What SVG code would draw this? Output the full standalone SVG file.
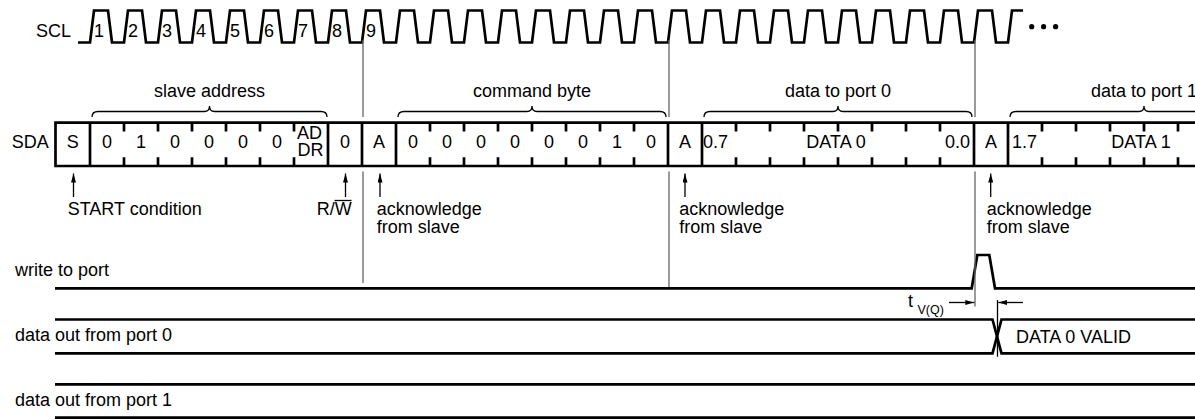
<svg xmlns="http://www.w3.org/2000/svg" width="1195" height="419" viewBox="0 0 1195 419">
<style>
text{font-family:"Liberation Sans",Arial,sans-serif;font-size:18px;fill:#000}
.c{text-anchor:middle}
.e{text-anchor:end}
.sub{font-size:12.5px}
.w{fill:none;stroke:#000;stroke-width:2.7;stroke-linejoin:miter}
.t{fill:none;stroke:#000;stroke-width:1.3}
.g{fill:none;stroke:#666;stroke-width:1.3}
.br{fill:none;stroke:#000;stroke-width:1.3}
</style>
<defs>
<marker id="ah" viewBox="0 0 9 5" refX="9" refY="2.5" markerWidth="9" markerHeight="5" orient="auto" markerUnits="userSpaceOnUse">
<path d="M0,0 L9,2.5 L0,5 z" fill="#000"/>
</marker>
</defs>
<rect width="1195" height="419" fill="#fff"/>

<g id="scl">
<text x="36" y="36.5">SCL</text>
<path class="w" d="M78,42.5 H90 L94,10.5 H108 L112,42.5 H124 L128,10.5 H142 L146,42.5 H158 L162,10.5 H176 L180,42.5 H192 L196,10.5 H210 L214,42.5 H226 L230,10.5 H244 L248,42.5 H260 L264,10.5 H278 L282,42.5 H294 L298,10.5 H312 L316,42.5 H328 L332,10.5 H346 L350,42.5 H362 L366,10.5 H380 L384,42.5 H396 L400,10.5 H414 L418,42.5 H430 L434,10.5 H448 L452,42.5 H464 L468,10.5 H482 L486,42.5 H498 L502,10.5 H516 L520,42.5 H532 L536,10.5 H550 L554,42.5 H566 L570,10.5 H584 L588,42.5 H600 L604,10.5 H618 L622,42.5 H634 L638,10.5 H652 L656,42.5 H668 L672,10.5 H686 L690,42.5 H702 L706,10.5 H720 L724,42.5 H736 L740,10.5 H754 L758,42.5 H770 L774,10.5 H788 L792,42.5 H804 L808,10.5 H822 L826,42.5 H838 L842,10.5 H856 L860,42.5 H872 L876,10.5 H890 L894,42.5 H906 L910,10.5 H924 L928,42.5 H940 L944,10.5 H958 L962,42.5 H974 L978,10.5 H992 L996,42.5 H1008 L1012,10.5 H1023"/>
<text x="94" y="36.5">1</text>
<text x="128" y="36.5">2</text>
<text x="162" y="36.5">3</text>
<text x="196" y="36.5">4</text>
<text x="230" y="36.5">5</text>
<text x="264" y="36.5">6</text>
<text x="298" y="36.5">7</text>
<text x="332" y="36.5">8</text>
<text x="366" y="36.5">9</text>
<circle cx="1031.7" cy="26.7" r="2.6"/>
<circle cx="1043.6" cy="26.7" r="2.6"/>
<circle cx="1055.6" cy="26.7" r="2.6"/>
</g>

<g id="braces">
<path class="br" d="M92,117 Q92,111.5 98,111.5 H204.5 Q209.5,111.5 209.5,106 Q209.5,111.5 214.5,111.5 H321 Q327,111.5 327,117"/>
<text class="c" x="209.5" y="96.5">slave address</text>
<path class="br" d="M398,117 Q398,111.5 404,111.5 H527 Q532,111.5 532,106 Q532,111.5 537,111.5 H660 Q666,111.5 666,117"/>
<text class="c" x="532" y="96.5">command byte</text>
<path class="br" d="M704,117 Q704,111.5 710,111.5 H833 Q838,111.5 838,106 Q838,111.5 843,111.5 H966 Q972,111.5 972,117"/>
<text class="c" x="838" y="96.5">data to port 0</text>
<path class="br" d="M1010,117 Q1010,111.5 1016,111.5 H1139 Q1144,111.5 1144,106 Q1144,111.5 1149,111.5 H1272 Q1278,111.5 1278,117"/>
<text class="c" x="1144" y="96.5">data to port 1</text>
</g>

<g id="sda">
<text x="11.7" y="148.3">SDA</text>
<path class="w" d="M1195,122.7 H55.5 V166 H1195"/>
<path class="w" d="M90,122.7 V166 M328,122.7 V166 M362,122.7 V166 M396,122.7 V166 M668,122.7 V166 M702,122.7 V166 M974,122.7 V166 M1008,122.7 V166"/>
<path class="w" d="M124,122.7 V131.5 M158,122.7 V131.5 M192,122.7 V131.5 M226,122.7 V131.5 M260,122.7 V131.5 M294,122.7 V131.5 M430,122.7 V131.5 M464,122.7 V131.5 M498,122.7 V131.5 M532,122.7 V131.5 M566,122.7 V131.5 M600,122.7 V131.5 M634,122.7 V131.5 M736,122.7 V131.5 M770,122.7 V131.5 M804,122.7 V131.5 M838,122.7 V131.5 M872,122.7 V131.5 M906,122.7 V131.5 M940,122.7 V131.5 M1042,122.7 V131.5 M1076,122.7 V131.5 M1110,122.7 V131.5 M1144,122.7 V131.5 M1178,122.7 V131.5"/>
<path class="w" d="M124,157.3 V166 M158,157.3 V166 M192,157.3 V166 M226,157.3 V166 M260,157.3 V166 M294,157.3 V166 M430,157.3 V166 M464,157.3 V166 M498,157.3 V166 M532,157.3 V166 M566,157.3 V166 M600,157.3 V166 M634,157.3 V166 M736,157.3 V166 M770,157.3 V166 M804,157.3 V166 M838,157.3 V166 M872,157.3 V166 M906,157.3 V166 M940,157.3 V166 M1042,157.3 V166 M1076,157.3 V166 M1110,157.3 V166 M1144,157.3 V166 M1178,157.3 V166"/>
<text class="c" x="72.8" y="148.3">S</text>
<text class="c" x="107" y="148.3">0</text>
<text class="c" x="141" y="148.3">1</text>
<text class="c" x="175" y="148.3">0</text>
<text class="c" x="209" y="148.3">0</text>
<text class="c" x="243" y="148.3">0</text>
<text class="c" x="277" y="148.3">0</text>
<text class="c" x="309.5" y="138.8">AD</text>
<text class="c" x="310.5" y="155.8">DR</text>
<text class="c" x="345" y="148.3">0</text>
<text class="c" x="379" y="148.3">A</text>
<text class="c" x="413" y="148.3">0</text>
<text class="c" x="447" y="148.3">0</text>
<text class="c" x="481" y="148.3">0</text>
<text class="c" x="515" y="148.3">0</text>
<text class="c" x="549" y="148.3">0</text>
<text class="c" x="583" y="148.3">0</text>
<text class="c" x="617" y="148.3">1</text>
<text class="c" x="651" y="148.3">0</text>
<text class="c" x="685" y="148.3">A</text>
<text x="703" y="148.3">0.7</text>
<text class="c" x="836" y="148.3">DATA 0</text>
<text class="e" x="970" y="148.3">0.0</text>
<text class="c" x="991" y="148.3">A</text>
<text x="1012" y="148.3">1.7</text>
<text class="c" x="1141" y="148.3">DATA 1</text>
</g>

<g id="annotations">
<text x="67.7" y="215">START condition</text>
<text class="e" x="351.7" y="215">R/W</text>
<line class="t" x1="334.5" y1="200.5" x2="351.5" y2="200.5"/>
<text x="376.7" y="214.5">acknowledge</text>
<text x="376.7" y="232.5">from slave</text>
<text x="679.3" y="214.5">acknowledge</text>
<text x="679.3" y="232.5">from slave</text>
<text x="986.7" y="214.5">acknowledge</text>
<text x="986.7" y="232.5">from slave</text>
</g>

<g id="write">
<text x="15" y="276">write to port</text>
<path class="w" d="M55,288.3 H971.7 L977.3,255 H989.3 L995,288.3 H1195"/>
</g>

<g id="port0">
<text x="15" y="340.7">data out from port 0</text>
<path class="w" d="M55,319.5 H992.5 L1001.5,353.3 H1195"/>
<path class="w" d="M55,353.3 H992.5 L1001.5,319.5 H1195"/>
<text x="1016" y="342.7">DATA 0 VALID</text>
</g>

<g id="port1">
<text x="15" y="406">data out from port 1</text>
<path class="w" d="M55,384.3 H1195 M55,417.7 H1195"/>
</g>

<g id="connectors">
<path class="g" d="M363,40 V117 M363,171.5 V283"/>
<path class="g" d="M669,40 V117 M669,171.5 V287"/>
<path class="g" d="M975,40 V117 M975,171.5 V306.5"/>
<line class="t" x1="997.5" y1="300" x2="997.5" y2="356.7"/>
<line class="t" x1="73.5" y1="197" x2="73.5" y2="173.5" marker-end="url(#ah)"/>
<line class="t" x1="345.5" y1="197" x2="345.5" y2="173.5" marker-end="url(#ah)"/>
<line class="t" x1="380" y1="197" x2="380" y2="173.5" marker-end="url(#ah)"/>
<line class="t" x1="685" y1="197" x2="685" y2="173.5" marker-end="url(#ah)"/>
<line class="t" x1="990.7" y1="197" x2="990.7" y2="173.5" marker-end="url(#ah)"/>
<line class="t" x1="949" y1="302.5" x2="974.3" y2="302.5" marker-end="url(#ah)"/>
<line class="t" x1="1023" y1="302.5" x2="998.3" y2="302.5" marker-end="url(#ah)"/>
<text x="908" y="306.7">t</text>
<text class="sub" x="917.5" y="313.5">V(Q)</text>
</g>
</svg>
